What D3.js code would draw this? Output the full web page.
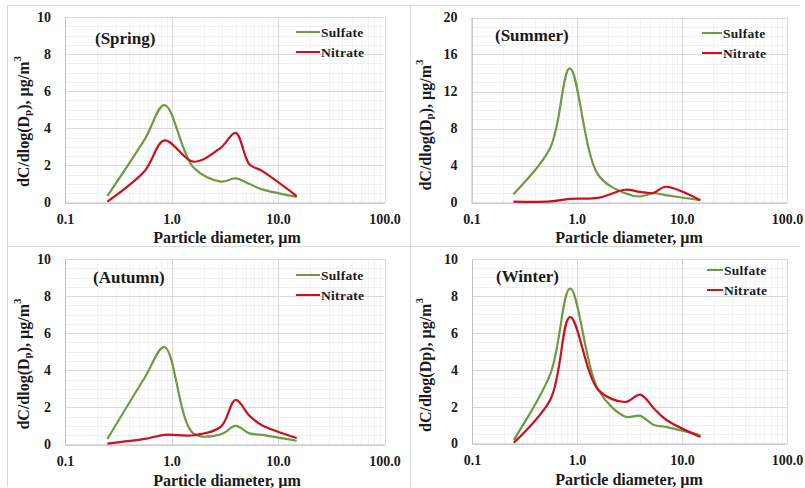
<!DOCTYPE html>
<html><head><meta charset="utf-8">
<script src="https://cdn.jsdelivr.net/npm/d3@7"></script>
<style>
html,body{margin:0;padding:0;background:#fff;}
</style></head>
<body><svg id="c" width="805" height="488" font-family="'Liberation Serif', serif" font-weight="bold"></svg>
<script>
// ---- data ----
const diameters = [0.25, 0.56, 0.86, 1.6, 2.9, 4.0, 5.4, 7.0, 15];
const springSulfate = [0.35, 3.4, 5.25, 1.9, 1.13, 1.3, 1.0, 0.72, 0.3];
const springNitrate = [0.05, 1.7, 3.35, 2.2, 2.95, 3.75, 2.05, 1.72, 0.35];
const summerSulfate = [0.9, 5.9, 14.5, 3.0, 1.0, 0.65, 1.0, 0.8, 0.25];
const summerNitrate = [0.1, 0.12, 0.4, 0.5, 1.38, 1.15, 1.05, 1.7, 0.25];
const autumnSulfate = [0.3, 3.6, 5.25, 0.6, 0.55, 1.0, 0.6, 0.52, 0.2];
const autumnNitrate = [0.05, 0.3, 0.52, 0.5, 0.95, 2.4, 1.55, 1.05, 0.35];
const winterSulfate = [0.2, 3.8, 8.4, 2.9, 1.45, 1.5, 1.0, 0.9, 0.45];
const winterNitrate = [0.05, 2.4, 6.85, 2.9, 2.25, 2.65, 1.9, 1.3, 0.35];
const seasonLabels = ["(Spring)", "(Summer)", "(Autumn)", "(Winter)"];
const seriesNames = ["Sulfate", "Nitrate"];
const xTickValues = [0.1, 1, 10, 100];
const xTickLabels = ["0.1", "1.0", "10.0", "100.0"];
const yTicksSmall = [0, 2, 4, 6, 8, 10];
const yTicksLarge = [0, 4, 8, 12, 16, 20];

// ---- layout / style ----
const FONT = "'Liberation Serif', 'Times New Roman', serif";
const colors = ["#6f9a45", "#cc1020"];
const panels = [
  {label: seasonLabels[0], data: [springSulfate, springNitrate], yTicks: yTicksSmall, x: [65, 384.5], y: [202.5, 17], ytx: 23, yty: 121.5, xtx: 227, xty: 237, lab: [95, 38], leg: [296, 320, 32, 52], sub: true},
  {label: seasonLabels[1], data: [summerSulfate, summerNitrate], yTicks: yTicksLarge, x: [471.5, 787], y: [202.5, 17.5], ytx: 425, yty: 125, xtx: 629, xty: 237, lab: [495, 35], leg: [702, 722, 33, 53], sub: true},
  {label: seasonLabels[2], data: [autumnSulfate, autumnNitrate], yTicks: yTicksSmall, x: [65, 384.5], y: [444.5, 259], ytx: 23, yty: 364, xtx: 227, xty: 480, lab: [93, 277], leg: [296, 320, 275, 295], sub: true},
  {label: seasonLabels[3], data: [winterSulfate, winterNitrate], yTicks: yTicksSmall, x: [472, 787], y: [443.5, 259], ytx: 425, yty: 365, xtx: 629, xty: 479, lab: [496, 276], leg: [707, 723, 270, 290], sub: false}
];

const svg = d3.select("#c");
const frame = "#d9d9d9";
svg.append("line").attr("x1", 7).attr("x2", 800).attr("y1", 5.5).attr("y2", 5.5).attr("stroke", frame);
svg.append("line").attr("x1", 7.5).attr("x2", 7.5).attr("y1", 5).attr("y2", 487).attr("stroke", frame);
svg.append("line").attr("x1", 410.5).attr("x2", 410.5).attr("y1", 5).attr("y2", 487).attr("stroke", frame);
svg.append("line").attr("x1", 7).attr("x2", 800).attr("y1", 246.5).attr("y2", 246.5).attr("stroke", frame);

function T(sel) { return sel.attr("font-family", FONT).attr("font-weight", "bold").attr("fill", "#1a1a1a"); }

panels.forEach(p => {
  const g = svg.append("g");
  const x = d3.scaleLog().domain([0.1, 100]).range(p.x);
  const ymax = p.yTicks[p.yTicks.length - 1];
  const y = d3.scaleLinear().domain([0, ymax]).range(p.y);
  const step = p.yTicks[1] - p.yTicks[0];
  const minorY = d3.range(0, ymax + 1e-9, step / 4).filter(v => Math.abs(v / step - Math.round(v / step)) > 1e-6);
  g.selectAll(".my").data(minorY).join("line")
    .attr("x1", p.x[0]).attr("x2", p.x[1]).attr("y1", d => Math.round(y(d)) + 0.5).attr("y2", d => Math.round(y(d)) + 0.5)
    .attr("stroke", "#f0f0f0");
  const minorX = [];
  [0.1, 1, 10].forEach(b => { for (let k = 2; k <= 9; k++) minorX.push(b * k); });
  g.selectAll(".mx").data(minorX).join("line")
    .attr("x1", d => Math.round(x(d)) + 0.5).attr("x2", d => Math.round(x(d)) + 0.5).attr("y1", p.y[0]).attr("y2", p.y[1])
    .attr("stroke", "#f2f2f2");
  g.selectAll(".gy").data(p.yTicks).join("line")
    .attr("x1", p.x[0]).attr("x2", p.x[1]).attr("y1", d => Math.round(y(d)) + 0.5).attr("y2", d => Math.round(y(d)) + 0.5)
    .attr("stroke", "#d9d9d9");
  g.selectAll(".gx").data(xTickValues).join("line")
    .attr("x1", d => Math.round(x(d)) + 0.5).attr("x2", d => Math.round(x(d)) + 0.5).attr("y1", p.y[0]).attr("y2", p.y[1])
    .attr("stroke", "#d9d9d9");
  const xAxis = d3.axisBottom(x).tickValues(xTickValues).tickFormat((d, i) => xTickLabels[i]).tickSize(0).tickPadding(12);
  const xa = g.append("g").attr("transform", `translate(0,${p.y[0]})`).call(xAxis);
  xa.attr("font-family", FONT).attr("font-size", 14);
  xa.select(".domain").attr("stroke", "#bfbfbf");
  T(xa.selectAll("text")).attr("font-size", 14);
  const yAxis = d3.axisLeft(y).tickValues(p.yTicks).tickSize(0).tickPadding(14);
  const ya = g.append("g").attr("transform", `translate(${p.x[0]},0)`).call(yAxis);
  ya.attr("font-family", FONT).attr("font-size", 14);
  ya.select(".domain").attr("stroke", "#bfbfbf");
  T(ya.selectAll("text")).attr("font-size", 14);
  const line = d3.line().x(d => x(d[0])).y(d => y(d[1])).curve(d3.curveCatmullRom.alpha(0.5));
  p.data.forEach((vals, si) => {
    const pts = diameters.map((d, i) => [d, vals[i]]);
    g.append("path").attr("d", line(pts)).attr("fill", "none").attr("stroke", colors[si]).attr("stroke-width", 2.2);
  });
  T(g.append("text")).attr("x", p.lab[0]).attr("y", p.lab[1]).attr("dominant-baseline", "central")
    .attr("font-size", 17).text(p.label);
  seriesNames.forEach((n, i) => {
    const ly = p.leg[2 + i];
    g.append("line").attr("x1", p.leg[0]).attr("x2", p.leg[1]).attr("y1", ly).attr("y2", ly)
      .attr("stroke", colors[i]).attr("stroke-width", 2);
    T(g.append("text")).attr("x", p.leg[1] + 1).attr("y", ly).attr("dominant-baseline", "central")
      .attr("font-size", 13.5).attr("letter-spacing", 0.3).text(n);
  });
  T(g.append("text")).attr("x", p.xtx).attr("y", p.xty).attr("text-anchor", "middle").attr("dominant-baseline", "central")
    .attr("font-size", 16).text("Particle diameter, \u00b5m");
  const yt = T(g.append("text")).attr("transform", `translate(${p.ytx},${p.yty}) rotate(-90)`)
    .attr("text-anchor", "middle").attr("dominant-baseline", "central").attr("font-size", 16);
  if (p.sub) {
    yt.append("tspan").text("dC/dlog(D");
    yt.append("tspan").text("p").attr("font-size", 11).attr("dy", 4);
    yt.append("tspan").text("), \u00b5g/m").attr("dy", -4);
  } else {
    yt.append("tspan").text("dC/dlog(Dp), \u00b5g/m");
  }
  yt.append("tspan").text("3").attr("font-size", 11).attr("dy", -6);
});
</script></body></html>
